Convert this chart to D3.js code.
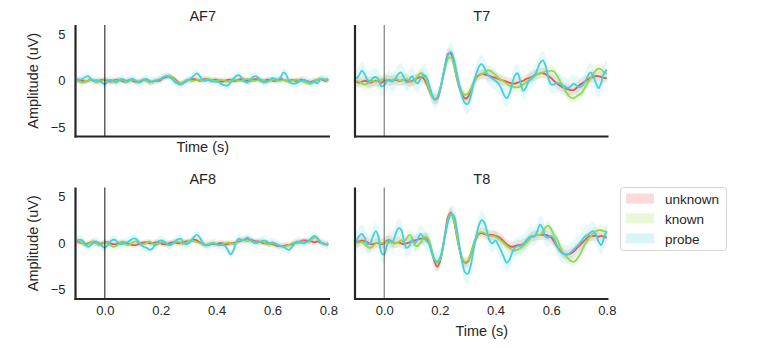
<!DOCTYPE html>
<html><head><meta charset="utf-8">
<script src="https://cdn.jsdelivr.net/npm/d3@7"></script>
<style>
body{margin:0;background:#fff}
svg{display:block}
text{font-family:Arial,"Liberation Sans",sans-serif;fill:#262626}
</style>
</head><body>
<svg id="c" width="759" height="348"></svg>
<script>
// ---------- DATA ----------
const times = [
-0.10,-0.09,-0.08,-0.07,-0.06,-0.05,-0.04,-0.03,-0.02,-0.01,
0.00,0.01,0.02,0.03,0.04,0.05,0.06,0.07,0.08,0.09,
0.10,0.11,0.12,0.13,0.14,0.15,0.16,0.17,0.18,0.19,
0.20,0.21,0.22,0.23,0.24,0.25,0.26,0.27,0.28,0.29,
0.30,0.31,0.32,0.33,0.34,0.35,0.36,0.37,0.38,0.39,
0.40,0.41,0.42,0.43,0.44,0.45,0.46,0.47,0.48,0.49,
0.50,0.51,0.52,0.53,0.54,0.55,0.56,0.57,0.58,0.59,
0.60,0.61,0.62,0.63,0.64,0.65,0.66,0.67,0.68,0.69,
0.70,0.71,0.72,0.73,0.74,0.75,0.76,0.77,0.78,0.79,
0.80];
const conditions = ["unknown","known","probe"];
const channels = ["AF7","T7","AF8","T8"];
const xTicks = [0.0,0.2,0.4,0.6,0.8];
const yTicks = [-5,0,5];

const af7Unknown = [
0.1,0.1,0.0,-0.1,0.0,0.1,0.0,-0.1,0.0,0.1,
0.1,0.0,-0.1,0.0,0.1,0.1,0.0,-0.1,0.0,0.1,
0.0,-0.1,-0.1,0.0,0.1,0.0,-0.1,-0.1,0.0,0.0,
0.1,0.3,0.4,0.5,0.4,0.2,-0.1,-0.3,-0.2,0.0,
0.1,0.1,0.2,0.1,0.0,0.1,0.2,0.1,0.0,0.1,
0.1,0.0,-0.1,0.0,0.1,0.1,0.0,0.0,0.1,0.2,
0.1,0.0,0.0,0.1,0.2,0.1,0.0,0.0,0.1,0.1,
0.0,0.0,0.1,0.2,0.1,0.0,0.0,0.1,0.0,0.0,
0.1,0.1,0.0,-0.1,-0.1,0.0,0.1,0.2,0.1,0.0,
0.1];
const af7Known = [
0.0,-0.1,-0.2,-0.1,0.0,0.1,0.0,-0.1,-0.1,0.0,
0.1,0.1,0.0,-0.1,0.0,0.1,0.1,0.0,-0.1,0.0,
0.1,0.0,-0.1,0.0,0.1,0.0,-0.2,-0.1,0.0,0.1,
0.2,0.4,0.5,0.5,0.4,0.1,-0.2,-0.3,-0.2,0.0,
0.1,0.0,0.0,0.1,0.1,0.0,0.1,0.2,0.1,0.0,
0.0,0.1,0.1,0.0,-0.1,0.0,0.1,0.1,0.0,0.0,
0.1,0.2,0.1,0.0,0.0,0.1,0.1,0.0,-0.1,0.0,
0.1,0.1,0.0,0.0,0.1,0.0,-0.1,0.0,0.1,0.1,
0.0,-0.1,-0.2,-0.3,-0.3,-0.1,0.1,0.2,0.2,0.1,
0.1];
const af7Probe = [
0.2,0.1,0.2,0.4,0.5,0.2,0.0,0.1,0.0,-0.2,
-0.4,-0.1,0.1,0.0,-0.2,0.0,0.2,0.1,-0.1,0.1,
0.2,0.0,-0.2,-0.1,0.1,0.2,0.0,-0.1,0.0,0.1,
0.2,0.4,0.5,0.4,0.2,-0.1,-0.3,-0.4,-0.3,-0.1,
0.1,0.3,0.6,0.8,0.5,0.1,0.0,0.1,0.0,-0.1,
-0.1,-0.2,-0.4,-0.5,-0.5,-0.2,0.2,0.5,0.6,0.3,
-0.1,-0.2,0.1,0.4,0.5,0.3,0.0,-0.2,-0.1,0.1,
0.3,0.2,0.1,0.4,0.9,0.6,-0.1,-0.3,-0.3,-0.2,
0.0,0.1,0.0,-0.1,-0.2,0.0,-0.3,0.1,0.2,0.1,
0.2];

const t7Unknown = [
-0.1,-0.2,-0.1,0.0,-0.1,-0.2,-0.1,0.0,-0.1,-0.2,
0.0,0.1,0.0,0.0,0.1,0.0,0.0,0.1,0.0,-0.1,
0.0,0.1,0.3,0.4,0.3,-0.2,-0.9,-1.5,-1.95,-1.95,
-1.1,0.3,1.8,2.9,2.9,1.8,0.4,-0.7,-1.5,-1.9,
-1.8,-1.1,-0.3,0.3,0.6,0.7,0.7,0.6,0.5,0.4,
0.3,0.2,0.1,0.0,-0.1,-0.2,-0.3,-0.3,-0.2,-0.1,
0.0,0.2,0.3,0.4,0.6,0.7,0.8,0.8,0.7,0.5,
0.3,0.0,-0.3,-0.5,-0.7,-0.8,-0.9,-1.0,-1.0,-0.8,
-0.5,-0.3,-0.1,0.1,0.3,0.4,0.5,0.5,0.4,0.3,
0.3];
const t7Known = [
0.0,-0.1,-0.3,-0.4,-0.3,-0.1,0.0,-0.1,0.0,0.1,
0.2,0.1,0.0,0.1,0.2,0.1,0.0,0.1,0.2,0.0,
-0.1,0.1,0.5,0.8,0.7,0.1,-0.8,-1.6,-2.0,-1.8,
-1.0,0.2,1.5,2.4,2.5,1.7,0.5,-0.5,-1.2,-1.5,
-1.4,-0.9,-0.3,0.2,0.5,0.7,0.9,1.1,1.1,0.9,
0.6,0.3,0.1,-0.1,-0.3,-0.5,-0.6,-0.7,-0.7,-0.6,
-0.4,-0.2,0.1,0.3,0.5,0.7,0.8,0.9,1.0,1.0,
1.1,1.0,0.6,0.1,-0.5,-1.0,-1.5,-1.8,-1.9,-1.7,
-1.5,-1.3,-0.8,-0.3,0.2,0.7,1.1,1.3,1.2,0.9,
0.8];
const t7Probe = [
0.2,0.6,1.1,0.7,0.1,0.0,0.3,0.4,0.1,-0.6,
-0.5,0.0,0.1,-0.1,0.2,0.7,0.9,0.4,-0.2,0.1,
0.5,0.0,-0.3,0.2,0.6,0.5,-0.3,-1.3,-2.0,-1.9,
-1.0,0.3,1.7,2.8,3.1,2.4,1.0,-0.5,-1.7,-2.4,
-2.5,-1.8,-0.5,0.7,1.5,1.8,1.4,0.7,0.4,0.2,
0.0,-0.3,-0.8,-1.5,-1.9,-1.4,-0.3,0.6,0.8,-0.2,
-1.1,-0.7,0.0,0.2,0.5,1.2,1.9,2.2,1.6,0.3,
-0.4,-0.4,-0.2,-0.3,-0.5,-0.6,-0.8,-0.6,-0.3,-0.5,
-0.7,-0.6,-0.2,0.4,0.9,0.6,-0.2,-0.8,-0.2,0.8,
1.2];

const af8Unknown = [
0.2,0.1,0.0,-0.1,0.0,0.1,0.1,0.0,-0.1,0.0,
0.1,0.1,0.0,-0.1,-0.1,0.0,0.1,0.1,0.0,-0.1,
-0.2,-0.2,-0.1,0.0,0.1,0.1,0.0,0.0,0.1,0.1,
0.0,-0.1,-0.1,0.0,0.1,0.1,0.0,0.0,0.1,0.2,
0.2,0.3,0.4,0.3,0.1,-0.1,-0.2,-0.2,-0.1,-0.1,
-0.1,0.0,0.0,-0.1,-0.1,0.0,0.0,0.1,0.2,0.3,
0.4,0.5,0.4,0.3,0.2,0.2,0.1,0.0,0.0,-0.1,
-0.1,-0.2,-0.3,-0.3,-0.3,-0.2,-0.2,-0.1,0.0,0.1,
0.2,0.3,0.3,0.2,0.2,0.1,0.2,0.1,0.0,-0.1,
-0.1];
const af8Known = [
0.3,0.2,0.0,-0.2,-0.1,0.1,0.2,0.0,-0.2,-0.1,
0.1,0.0,-0.2,-0.4,-0.3,-0.1,0.1,0.0,-0.2,-0.1,
0.1,0.2,0.1,-0.1,-0.1,0.1,0.2,0.0,-0.2,-0.1,
0.1,0.2,0.0,-0.2,-0.1,0.1,0.2,0.1,-0.1,0.0,
0.2,0.3,0.2,0.1,0.0,-0.1,-0.2,-0.1,0.0,0.0,
-0.1,-0.2,-0.1,0.0,0.1,0.0,-0.1,0.1,0.3,0.4,
0.3,0.2,0.3,0.2,0.1,0.1,0.2,0.1,-0.1,-0.1,
0.0,-0.1,-0.2,-0.3,-0.4,-0.3,-0.2,0.0,0.1,0.0,
0.1,0.2,0.1,0.2,0.4,0.6,0.5,0.2,0.0,-0.1,
0.0];
const af8Probe = [
0.3,0.4,0.3,-0.1,-0.4,-0.2,0.1,0.2,0.0,-0.3,
-0.5,-0.2,0.2,0.4,0.3,0.0,-0.1,0.0,0.1,0.3,
0.5,0.5,0.2,-0.2,-0.4,-0.5,-0.7,-0.6,-0.1,0.2,
0.3,0.2,0.0,-0.2,-0.1,0.2,0.4,0.5,0.2,-0.1,
0.0,0.3,0.7,0.9,0.6,0.1,-0.2,-0.2,-0.1,0.0,
-0.1,-0.2,-0.2,-0.3,-0.7,-1.2,-0.8,0.1,0.5,0.3,
0.4,0.6,0.4,0.1,0.0,0.1,0.2,0.3,0.2,0.0,
0.1,0.0,-0.2,-0.3,-0.4,-0.6,-0.7,-0.4,0.0,0.2,
0.1,0.0,0.1,0.3,0.6,0.8,0.6,0.2,0.0,-0.1,
-0.2];

const t8Unknown = [
0.1,0.2,0.3,0.2,0.1,-0.1,-0.1,0.0,0.0,-0.1,
0.0,0.3,0.3,0.1,0.0,0.1,0.0,-0.1,0.0,0.1,
0.2,0.3,0.4,0.5,0.5,0.6,0.2,-0.8,-1.9,-2.5,
-2.0,-0.6,1.3,2.9,3.3,2.5,0.9,-0.6,-1.7,-2.1,
-2.0,-1.3,-0.3,0.5,1.0,1.1,1.0,0.9,0.9,0.9,
0.8,0.7,0.5,0.2,-0.1,-0.3,-0.4,-0.3,-0.2,-0.2,
-0.1,0.1,0.4,0.7,0.8,0.9,0.9,0.9,0.9,0.8,
0.6,0.2,-0.3,-0.7,-1.0,-1.2,-1.2,-1.1,-0.9,-0.6,
-0.3,0.0,0.3,0.6,0.8,0.8,0.8,0.7,0.8,0.7,
0.6];
const t8Known = [
0.0,0.1,0.1,-0.1,-0.4,-0.5,-0.3,0.0,0.1,0.0,
0.1,0.2,0.1,0.0,0.0,0.1,0.3,0.2,0.5,0.9,
0.6,-0.2,-0.3,0.0,0.5,0.7,0.4,-0.6,-1.7,-2.1,
-1.8,-0.6,1.1,2.6,3.2,2.6,1.0,-0.5,-1.6,-2.0,
-1.9,-1.2,-0.2,0.6,1.1,1.2,1.1,0.9,0.8,0.8,
0.7,0.5,0.3,0.0,-0.3,-0.5,-0.7,-0.8,-0.7,-0.5,
-0.3,0.0,0.4,0.7,0.8,0.9,0.9,1.2,1.7,1.9,
1.5,0.9,0.5,-0.2,-0.9,-1.3,-1.6,-1.9,-2.0,-1.8,
-1.4,-0.8,-0.2,0.3,0.7,1.0,1.3,1.4,1.4,1.3,
1.2];
const t8Probe = [
0.2,0.8,1.0,0.6,-0.1,0.0,0.8,1.3,0.6,-1.0,
-1.2,-0.2,0.3,0.2,0.9,1.6,1.5,0.4,-0.5,-0.3,
0.4,0.0,0.4,1.0,0.7,0.3,0.0,-0.9,-1.7,-2.0,
-1.6,-0.5,1.0,2.4,3.1,3.0,1.7,-0.2,-2.0,-3.1,
-3.3,-2.5,-0.9,0.7,1.9,2.5,2.2,1.2,0.2,0.0,
0.3,-0.2,-0.8,-1.5,-2.1,-1.8,-1.0,-0.5,-0.3,-0.3,
-0.1,0.3,0.6,0.8,0.7,1.3,2.0,1.6,0.7,0.6,
0.8,0.5,-0.2,-0.8,-1.1,-1.2,-1.2,-1.0,-0.7,-0.4,
-0.1,0.3,0.7,0.9,1.1,1.3,1.0,0.2,-0.2,0.6,
1.3];

// approximate half-width of the shaded confidence band (uV), per condition
const af7Band = [0.3, 0.3, 0.45];
const t7Band  = [0.55, 0.55, 1.0];
const af8Band = [0.3, 0.3, 0.5];
const t8Band  = [0.55, 0.55, 1.0];

// ---------- STYLE / LAYOUT ----------
const lineColors = ["#e35a52", "#93d853", "#45d0df"];
const legendColors = ["#fbdad9", "#e9f8da", "#d8f6f9"];
const xDomain = [-0.105, 0.806];
const yDomain = [-6, 6];

const panels = [
  {name:channels[0], series:[af7Unknown, af7Known, af7Probe], band:af7Band, x0:75.5, x1:330, y0:25, y1:136.5, yAxis:true, xAxis:false, xLabel:"top", onset:"#111"},
  {name:channels[1], series:[t7Unknown, t7Known, t7Probe], band:t7Band, x0:355, x1:608.5, y0:25, y1:136.5, yAxis:false, xAxis:false, xLabel:null, onset:"#666"},
  {name:channels[2], series:[af8Unknown, af8Known, af8Probe], band:af8Band, x0:75.5, x1:330, y0:187.5, y1:299, yAxis:true, xAxis:true, xLabel:null, onset:"#111"},
  {name:channels[3], series:[t8Unknown, t8Known, t8Probe], band:t8Band, x0:355, x1:608.5, y0:187.5, y1:299, yAxis:false, xAxis:true, xLabel:"bottom", onset:"#666"}
];

const svg = d3.select("#c");

panels.forEach(p => {
  const x = d3.scaleLinear().domain(xDomain).range([p.x0, p.x1]);
  const y = d3.scaleLinear().domain(yDomain).range([p.y1, p.y0]);
  const g = svg.append("g");

  // bands
  p.series.forEach((vals, i) => {
    const b = p.band[i];
    const area = d3.area()
      .x((d, k) => x(times[k]))
      .y0(d => y(d - b))
      .y1(d => y(d + b))
      .curve(d3.curveCatmullRom);
    g.append("path").datum(vals)
      .attr("d", area)
      .attr("fill", lineColors[i])
      .attr("fill-opacity", 0.14)
      .attr("stroke", "none");
  });

  // lines
  p.series.forEach((vals, i) => {
    const line = d3.line()
      .x((d, k) => x(times[k]))
      .y(d => y(d))
      .curve(d3.curveCatmullRom);
    g.append("path").datum(vals)
      .attr("d", line)
      .attr("fill", "none")
      .attr("stroke", lineColors[i])
      .attr("stroke-width", 1.8)
      .attr("stroke-linejoin", "round");
  });

  // stimulus onset
  g.append("line")
    .attr("x1", x(0)).attr("x2", x(0))
    .attr("y1", p.y0).attr("y2", p.y1)
    .attr("stroke", p.onset).attr("stroke-width", 1);

  // spines
  g.append("line").attr("x1", p.x0).attr("x2", p.x0).attr("y1", p.y0).attr("y2", p.y1 + 1)
    .attr("stroke", "#262626").attr("stroke-width", 2.2);
  g.append("line").attr("x1", p.x0 - 1).attr("x2", p.x1).attr("y1", p.y1).attr("y2", p.y1)
    .attr("stroke", "#262626").attr("stroke-width", 2.2);

  // axes
  if (p.yAxis) {
    const ya = g.append("g").attr("transform", `translate(${p.x0},0)`)
      .call(d3.axisLeft(y).tickValues(yTicks).tickSize(0).tickPadding(10));
    ya.select(".domain").remove();
    ya.selectAll("text").style("font-size", "13px").style("font-family", "Arial, 'Liberation Sans', sans-serif").attr("fill", "#262626");
    g.append("text")
      .attr("transform", `translate(${p.x0 - 38},${(p.y0 + p.y1) / 2}) rotate(-90)`)
      .attr("text-anchor", "middle")
      .style("font-size", "14.5px")
      .text("Amplitude (uV)");
  }
  if (p.xAxis) {
    const xa = g.append("g").attr("transform", `translate(0,${p.y1})`)
      .call(d3.axisBottom(x).tickValues(xTicks).tickFormat(d3.format(".1f")).tickSize(0).tickPadding(7));
    xa.select(".domain").remove();
    xa.selectAll("text").style("font-size", "13px").style("font-family", "Arial, 'Liberation Sans', sans-serif").attr("fill", "#262626");
  }
  if (p.xLabel === "top") {
    g.append("text").attr("x", (p.x0 + p.x1) / 2).attr("y", p.y1 + 15)
      .attr("text-anchor", "middle").style("font-size", "14.5px").text("Time (s)");
  } else if (p.xLabel === "bottom") {
    g.append("text").attr("x", (p.x0 + p.x1) / 2).attr("y", p.y1 + 37)
      .attr("text-anchor", "middle").style("font-size", "14.5px").text("Time (s)");
  }

  // title
  g.append("text").attr("x", (p.x0 + p.x1) / 2).attr("y", p.y0 - 4)
    .attr("text-anchor", "middle").style("font-size", "14.5px").text(p.name);
});

// legend
const lg = svg.append("g");
lg.append("rect").attr("x", 620.5).attr("y", 187.5).attr("width", 106).attr("height", 63)
  .attr("rx", 3).attr("fill", "#fff").attr("stroke", "#d6d6d6").attr("stroke-width", 1);
conditions.forEach((c, i) => {
  const cy = 198.5 + i * 20;
  lg.append("rect").attr("x", 626).attr("y", cy - 5).attr("width", 28).attr("height", 10)
    .attr("fill", legendColors[i]);
  lg.append("text").attr("x", 665).attr("y", cy + 5).style("font-size", "13.5px").text(c);
});
</script>
</body></html>
